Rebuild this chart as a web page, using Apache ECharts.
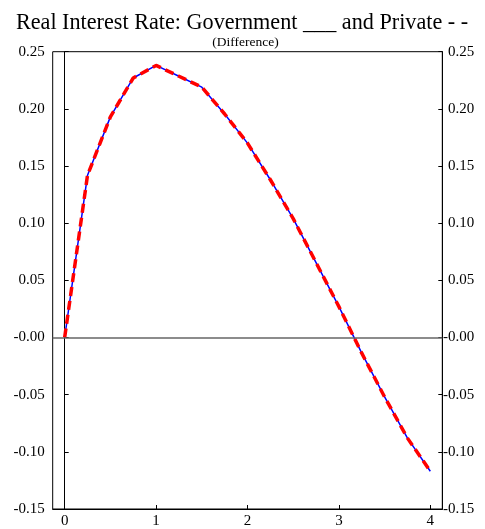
<!DOCTYPE html>
<html><head><meta charset="utf-8">
<script src="https://cdn.jsdelivr.net/npm/echarts@6/dist/echarts.min.js"></script>
<style>html,body{margin:0;padding:0;background:#fff}#c{width:485px;height:529px}</style>
</head><body><div id="c"></div>
<script>
var xValues = [0, 0.25, 0.5, 0.75, 1, 1.25, 1.5, 1.75, 2, 2.25, 2.5, 2.75, 3, 3.25, 3.5, 3.75, 4];
var government = [0, 0.142, 0.193, 0.227, 0.238, 0.2285, 0.219, 0.1955, 0.170, 0.138, 0.104, 0.0655, 0.027, -0.0137, -0.052, -0.088, -0.117];
var privateRate = [0, 0.142, 0.193, 0.227, 0.238, 0.2285, 0.219, 0.1955, 0.170, 0.138, 0.104, 0.0655, 0.027, -0.0137, -0.052, -0.088, -0.117];
var xTicks = [0, 1, 2, 3, 4];

function pairs(ys){ return xValues.map(function(x,i){ return [x, ys[i]]; }); }
var FONT = 'Liberation Serif';
function yfmt(v){ var s = Math.abs(v) < 1e-9 ? '-0.00' : v.toFixed(2); return s; }

var chart = echarts.init(document.getElementById('c'), null, {renderer:'canvas'});
chart.setOption({
  animation:false,
  backgroundColor:'#fff',
  title:[
    {text:'Real Interest Rate: Government ___ and Private - -', left:237, top:7, textAlign:'center',
     textStyle:{fontFamily:FONT, fontWeight:'normal', fontSize:22.2, color:'#000'}},
    {text:'(Difference)', left:240.5, top:30, textAlign:'center',
     textStyle:{fontFamily:FONT, fontWeight:'normal', fontSize:13.5, color:'#000'}}
  ],
  grid:{left:52.7, right:42.7, top:51.7, bottom:19, show:true, borderColor:'#000', borderWidth:1, containLabel:false},
  xAxis:{type:'value', min:-0.131, max:4.131,
    axisLine:{show:true, onZero:false, lineStyle:{color:'#000'}},
    axisTick:{show:true, inside:true, length:4, customValues:xTicks, lineStyle:{color:'#000'}},
    axisLabel:{show:true, customValues:xTicks, margin:5, fontFamily:FONT, fontSize:15, color:'#000'},
    splitLine:{show:false}},
  yAxis:[
    {type:'value', min:-0.15, max:0.25, interval:0.05, position:'left',
     axisLine:{show:true, lineStyle:{color:'#000'}},
     axisTick:{show:true, inside:true, length:4, lineStyle:{color:'#000'}},
     axisLabel:{margin:8, fontFamily:FONT, fontSize:15, color:'#000', formatter:yfmt},
     splitLine:{show:false}},
    {type:'value', min:-0.15, max:0.25, interval:0.05, position:'right',
     axisLine:{show:true, lineStyle:{color:'#000'}},
     axisTick:{show:true, inside:true, length:4, lineStyle:{color:'#000'}},
     axisLabel:{margin:32, align:'right', fontFamily:FONT, fontSize:15, color:'#000', formatter:yfmt},
     splitLine:{show:false}}
  ],
  series:[
    {type:'line', data:pairs(government), showSymbol:false, symbol:'none',
     lineStyle:{color:'#0000ff', width:1.5},
     markLine:{silent:true, symbol:'none', label:{show:false},
       lineStyle:{color:'#666', width:1.5, type:'solid'}, data:[{yAxis:0}]}},
    {type:'line', data:pairs(privateRate), showSymbol:false, symbol:'none',
     lineStyle:{color:'#ff0000', width:3.5, type:[9,5]}}
  ]
});
</script></body></html>
